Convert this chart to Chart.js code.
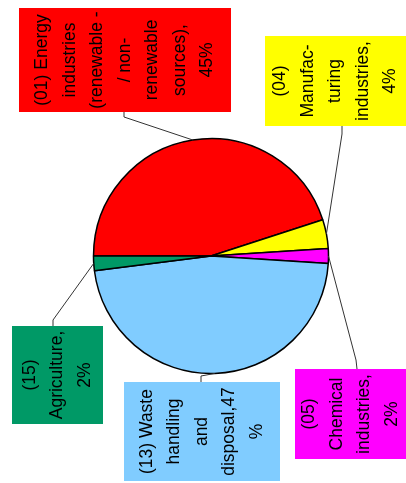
<!DOCTYPE html>
<html>
<head>
<meta charset="utf-8">
<script src="https://cdn.jsdelivr.net/npm/chart.js@4/dist/chart.umd.min.js"></script>
<style>
  html, body { margin: 0; padding: 0; background: #fff; }
  #wrap { width: 406px; height: 483px; position: relative; }
</style>
</head>
<body>
<div id="wrap"><canvas id="c" width="406" height="483"></canvas></div>
<script>
// Emission shares by sector (percent)
const categories = [
  '(01) Energy industries (renewable - / non-renewable sources)',
  '(04) Manufacturing industries',
  '(05) Chemical industries',
  '(13) Waste handling and disposal',
  '(15) Agriculture'
];
const shares = [45, 4, 2, 47, 2];
const sliceColors = ['#ff0000', '#ffff00', '#ff00ff', '#80ccff', '#009966'];

// Wrapped label text; {v} is replaced by the share value
const labelTemplates = [
  '(01) Energy|industries|(renewable -|/ non-|renewable|sources),|{v}%',
  '(04)|Manufac-|turing|industries,|{v}%',
  '(05)|Chemical|industries,|{v}%',
  '(13) Waste|handling|and|disposal,{v}|%',
  '(15)|Agriculture,|{v}%'
];

// Label box placement: box rect, then bend points of the leader line (box end first)
const labelLayout = [
  { box: [19, 8, 212, 104],  path: [[124, 112], [124, 117]] },
  { box: [265, 36, 141, 90], path: [[342, 126], [342, 134]] },
  { box: [295, 369, 111, 90], path: [[357, 369], [356, 360]] },
  { box: [124, 382, 156, 99], path: [[201, 382], [201, 376]] },
  { box: [12, 326, 91, 98],  path: [[53, 326], [53, 320]] }
];

const LINE_H = 27.5;
const FONT = '17.5px "Liberation Sans", Arial, sans-serif';

const labelPlugin = {
  id: 'boxedLabels',
  afterDatasetsDraw(chart) {
    const ctx = chart.ctx;
    const meta = chart.getDatasetMeta(0);
    meta.data.forEach((arc, i) => {
      const lay = labelLayout[i];
      const mid = (arc.startAngle + arc.endAngle) / 2;
      const ax = arc.x + Math.cos(mid) * arc.outerRadius;
      const ay = arc.y + Math.sin(mid) * arc.outerRadius;

      // leader line
      ctx.save();
      ctx.strokeStyle = '#333';
      ctx.lineWidth = 1;
      ctx.beginPath();
      ctx.moveTo(lay.path[0][0], lay.path[0][1]);
      for (let k = 1; k < lay.path.length; k++) ctx.lineTo(lay.path[k][0], lay.path[k][1]);
      ctx.lineTo(ax, ay);
      ctx.stroke();
      ctx.restore();

      // box
      const [bx, by, bw, bh] = lay.box;
      ctx.save();
      ctx.fillStyle = sliceColors[i];
      ctx.fillRect(bx, by, bw, bh);

      // rotated text, read bottom to top
      const lines = labelTemplates[i].replace('{v}', shares[i]).split('|');
      ctx.translate(bx + bw / 2, by + bh / 2);
      ctx.rotate(-Math.PI / 2);
      ctx.fillStyle = '#000';
      ctx.font = FONT;
      ctx.textAlign = 'center';
      ctx.textBaseline = 'middle';
      const n = lines.length;
      lines.forEach((t, k) => {
        ctx.fillText(t, 0, (k - (n - 1) / 2) * LINE_H);
      });
      ctx.restore();
    });
  }
};

new Chart(document.getElementById('c'), {
  type: 'pie',
  data: {
    labels: categories,
    datasets: [{
      data: shares,
      backgroundColor: sliceColors,
      borderColor: '#000',
      borderWidth: 1.5
    }]
  },
  options: {
    responsive: false,
    animation: false,
    rotation: -90,
    radius: 117.5,
    layout: { padding: { left: 16, right: 0, top: 29, bottom: 0 } },
    plugins: {
      legend: { display: false },
      tooltip: { enabled: false }
    }
  },
  plugins: [labelPlugin]
});
</script>
</body>
</html>
